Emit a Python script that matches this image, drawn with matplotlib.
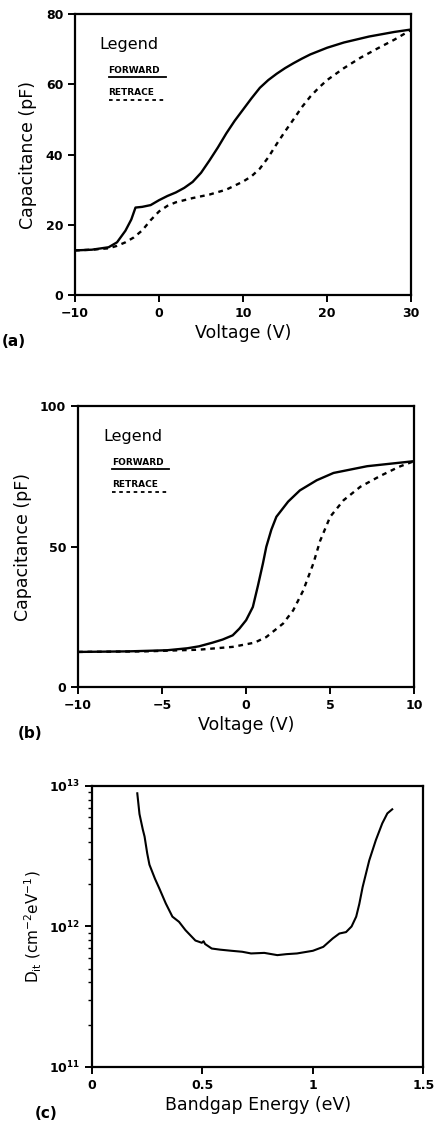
import numpy as np
import matplotlib
matplotlib.use("Agg")
import matplotlib.pyplot as plt
from matplotlib.ticker import LogLocator, NullFormatter

# (a) C-V, voltage range -10..30 V
va_fwd = [-10, -8, -6, -5, -4, -3.3, -2.8, -2, -1, 0, 1, 2, 3, 4, 5, 6, 7, 8, 9, 10,
          11, 12, 13, 14, 15, 16, 17, 18, 20, 22, 25, 28, 30]
ca_fwd = [12.7, 12.9, 13.6, 15.0, 18.3, 21.5, 24.9, 25.1, 25.6, 27.0, 28.2, 29.2, 30.5, 32.2, 34.8, 38.3, 42.0, 46.0, 49.6, 52.8,
          56.0, 59.0, 61.2, 63.0, 64.6, 66.0, 67.3, 68.5, 70.4, 71.9, 73.6, 74.9, 75.6]
va_ret = [-10, -8, -6, -5, -4, -3, -2, -1, 0, 1, 2, 4, 6, 8, 10, 11, 12, 13, 14, 15,
          16, 17, 18, 19, 20, 22, 24, 26, 28, 30]
ca_ret = [12.7, 12.9, 13.3, 14.0, 15.0, 16.4, 18.4, 21.3, 23.8, 25.4, 26.4, 27.6, 28.6, 30.0, 32.3, 33.8, 36.0, 39.2, 43.0, 46.6,
          50.0, 53.5, 56.5, 59.0, 61.2, 64.6, 67.6, 70.2, 72.7, 75.5]

# (b) C-V, voltage range -10..10 V
vb_fwd = [-10, -7, -4.7, -3.5, -2.8, -2, -1.4, -0.8, -0.4, 0, 0.4, 0.7, 1.0, 1.2, 1.5, 1.8, 2.5, 3.2, 4.2, 5.2, 7.2, 10]
cb_fwd = [12.5, 12.7, 13.1, 13.8, 14.5, 15.8, 16.9, 18.4, 20.8, 23.8, 28.5, 36.0, 44.0, 49.9, 56.0, 60.6, 66.0, 70.0, 73.6, 76.2, 78.6, 80.4]
vb_ret = [-10, -6, -2.8, -0.8, 0.5, 1.2, 2.2, 2.8, 3.4, 4.0, 4.4, 5.0, 5.8, 6.8, 8.0, 9.1, 10]
cb_ret = [12.5, 12.7, 13.3, 14.3, 15.8, 17.8, 22.6, 27.3, 34.4, 44.0, 52.0, 60.6, 66.5, 71.3, 75.2, 78.4, 80.4]

# (c) interface trap density vs bandgap energy
e_c = [0.205, 0.215, 0.23, 0.238, 0.25, 0.26, 0.285, 0.305, 0.334, 0.364, 0.394, 0.423, 0.468, 0.497, 0.505, 0.512, 0.542, 0.58,
       0.631, 0.68, 0.72, 0.78, 0.839, 0.88, 0.928, 1.0, 1.047, 1.09, 1.12, 1.15, 1.175, 1.196, 1.21, 1.225, 1.255,
       1.285, 1.314, 1.337, 1.359]
logd_c = [12.948, 12.80, 12.69, 12.64, 12.52, 12.44, 12.34, 12.27, 12.164, 12.07, 12.033, 11.974, 11.90, 11.884, 11.895, 11.875, 11.843, 11.835,
          11.827, 11.82, 11.808, 11.812, 11.796, 11.803, 11.808, 11.827, 11.855, 11.915, 11.95, 11.96, 12.0, 12.07, 12.16, 12.28, 12.47,
          12.615, 12.734, 12.805, 12.834]
d_c = [10 ** v for v in logd_c]

plt.rcParams['font.family'] = ['DejaVu Sans']
fig = plt.figure(figsize=(4.36, 11.23), dpi=100)

tick_fs = 9
lab_fs = 12.5


def style(ax):
    for s in ax.spines.values():
        s.set_linewidth(1.6)
    ax.tick_params(direction='out', width=1.4, length=5, labelsize=tick_fs)
    for t in ax.get_xticklabels() + ax.get_yticklabels():
        t.set_fontweight('bold')


def legend_box(ax):
    ax.text(0.074, 0.89, 'Legend', transform=ax.transAxes, fontsize=11.5, va='center')
    ax.text(0.1, 0.80, 'FORWARD', transform=ax.transAxes, fontsize=6.5, fontweight='bold', va='center')
    ax.plot([0.1, 0.27], [0.775, 0.775], transform=ax.transAxes, color='k', lw=1.3)
    ax.text(0.1, 0.72, 'RETRACE', transform=ax.transAxes, fontsize=6.5, fontweight='bold', va='center')
    ax.plot([0.1, 0.27], [0.695, 0.695], transform=ax.transAxes, color='k', lw=1.3, ls=(0, (2, 2)))


# panel a
ax1 = fig.add_axes([0.172, 0.7373, 0.771, 0.2502])
ax1.plot(va_fwd, ca_fwd, color='k', lw=1.7)
ax1.plot(va_ret, ca_ret, color='k', lw=1.7, ls=(0, (2, 2)))
ax1.set_xlim(-10, 30)
ax1.set_ylim(0, 80)
ax1.set_xticks([-10, 0, 10, 20, 30])
ax1.set_yticks([0, 20, 40, 60, 80])
ax1.set_xticklabels(['\u221210', '0', '10', '20', '30'])
ax1.set_xlabel('Voltage (V)', fontsize=lab_fs, labelpad=3)
ax1.set_ylabel('Capacitance (pF)', fontsize=lab_fs, labelpad=6)
style(ax1)
legend_box(ax1)
fig.text(0.005, 1 - 342 / 1123, '(a)', fontsize=11, fontweight='bold', va='center')

# panel b
ax2 = fig.add_axes([0.179, 0.3882, 0.771, 0.2502])
ax2.plot(vb_fwd, cb_fwd, color='k', lw=1.7)
ax2.plot(vb_ret, cb_ret, color='k', lw=1.7, ls=(0, (2, 2)))
ax2.set_xlim(-10, 10)
ax2.set_ylim(0, 100)
ax2.set_xticks([-10, -5, 0, 5, 10])
ax2.set_yticks([0, 50, 100])
ax2.set_xticklabels(['\u221210', '\u22125', '0', '5', '10'])
ax2.set_xlabel('Voltage (V)', fontsize=lab_fs, labelpad=3)
ax2.set_ylabel('Capacitance (pF)', fontsize=lab_fs, labelpad=6)
style(ax2)
legend_box(ax2)
fig.text(0.04, 1 - 733 / 1123, '(b)', fontsize=11, fontweight='bold', va='center')

# panel c
ax3 = fig.add_axes([0.211, 0.0499, 0.760, 0.2502])
ax3.plot(e_c, d_c, color='k', lw=1.5)
ax3.set_yscale('log')
ax3.set_xlim(0, 1.5)
ax3.set_ylim(1e11, 1e13)
ax3.set_xticks([0, 0.5, 1, 1.5])
ax3.set_xticklabels(['0', '0.5', '1', '1.5'])
ax3.yaxis.set_minor_locator(LogLocator(base=10, subs=np.arange(2, 10)))
ax3.yaxis.set_minor_formatter(NullFormatter())
ax3.set_xlabel('Bandgap Energy (eV)', fontsize=lab_fs, labelpad=3)
ax3.set_ylabel(r'D$_{\rm it}$ (cm$^{-2}$eV$^{-1}$)', fontsize=11, labelpad=4)
style(ax3)
ax3.tick_params(which='minor', direction='out', width=1.0, length=3)
fig.text(0.08, 1 - 1113 / 1123, '(c)', fontsize=11, fontweight='bold', va='center')

fig.savefig('out.png', dpi=100)
